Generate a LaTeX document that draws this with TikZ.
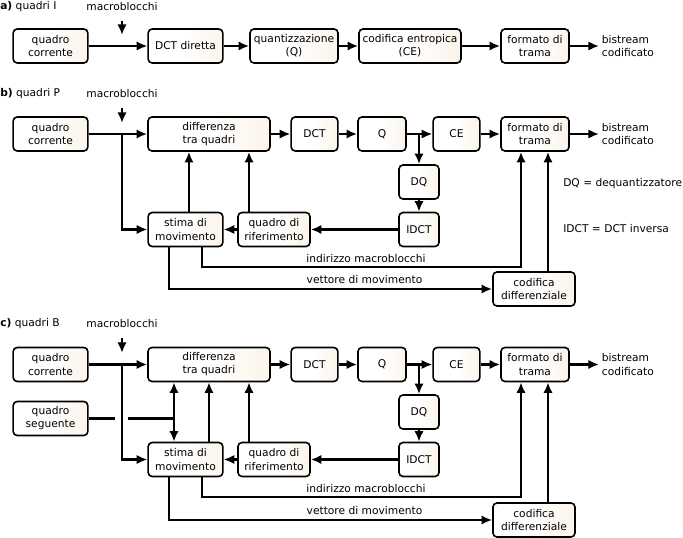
\documentclass[tikz,border=0pt]{standalone}
\usepackage{fontspec}
\setmainfont{DejaVu Sans}
\usetikzlibrary{arrows.meta}
\usetikzlibrary{graphs}
\definecolor{beige}{RGB}{247,232,212}
\pgfdeclarehorizontalshading{boxshade}{100bp}{color(0bp)=(white); color(50bp)=(white); color(100bp)=(beige)}
\tikzset{
  blk/.style= {draw, line width=1.2pt, rounded corners=3pt, shading=boxshade, align=center,
    inner sep=1pt, minimum height=25.5pt, font=\fontsize{8}{9.8}\selectfont},
  lbl/.style= {font=\fontsize{8}{9.8}\selectfont, align=left, inner sep=0pt},
  flow/.style= {line width=1.6pt, ->},
  wire/.style= {line width=1.6pt},
}

\begin{document}
\begin{tikzpicture}[x=0.75pt, y=-0.75pt, >={Latex[length=8pt,width=7pt]}]
  \useasboundingbox (0,0) rectangle (683,538);

  % a) quadri I
  \node [lbl, anchor=west] (titA) at (0,7) {\textbf{a)} quadri I} ;
  \node [lbl] (mbA) at (122,7) {macroblocchi} ;
  \coordinate (tipA) at (122,35) ;
  \node [blk, minimum width=56pt] (qcA) at (50.5,46) {quadro\\corrente} ;
  \node [blk, minimum width=56pt] (dctA) at (185.5,46) {DCT diretta} ;
  \node [blk, minimum width=66pt] (qA) at (294,46) {quantizzazione\\(Q)} ;
  \node [blk, minimum width=76.5pt] (ceA) at (410,46) {codifica entropica\\(CE)} ;
  \node [blk, minimum width=51pt] (fmtA) at (535,46) {formato di\\trama} ;
  \node [lbl, anchor=west, inner sep=2pt] (bsA) at (599,46) {bistream\\codificato} ;

  \draw [flow] ([yshift=-7pt]mbA.south) -- (tipA) ;
  \graph [edges=flow] {
    (qcA) -> (dctA) -> (qA) -> (ceA) -> (fmtA) -> (bsA) ;
  } ;

  % b) quadri P
  \node [lbl, anchor=west] (titB) at (0,94) {\textbf{b)} quadri P} ;
  \node [lbl] (mbB) at (122,94) {macroblocchi} ;
  \coordinate (tipB) at (122,123) ;
  \node [blk, minimum width=56pt] (qcB) at (50.5,134) {quadro\\corrente} ;
  \node [blk, minimum width=91.5pt] (diffB) at (209,134) {differenza\\tra quadri} ;
  \node [blk, minimum width=35pt] (dctB) at (314.5,134) {DCT} ;
  \node [blk, minimum width=36pt] (qB) at (382,134) {Q} ;
  \node [blk, minimum width=35pt] (ceB) at (456.5,134) {CE} ;
  \node [blk, minimum width=51pt] (fmtB) at (535,134) {formato di\\trama} ;
  \node [lbl, anchor=west, inner sep=2pt] (bsB) at (599,134) {bistream\\codificato} ;
  \node [blk, minimum width=30pt] (dqB) at (419,182) {DQ} ;
  \node [blk, minimum width=30pt] (idctB) at (419,229.5) {IDCT} ;
  \node [blk, minimum width=56pt] (stimaB) at (185.5,229.5) {stima di\\movimento} ;
  \node [blk, minimum width=54pt] (rifB) at (274,229.5) {quadro di\\riferimento} ;
  \node [blk, minimum width=61.5pt] (cdiffB) at (534,289) {codifica\\differenziale} ;
  \node [lbl, anchor=west] (dqnB) at (563,184) {DQ = dequantizzatore} ;
  \node [lbl, anchor=west] (idnB) at (563,229) {IDCT = DCT inversa} ;
  \node [lbl] (adrtB) at (366,259) {indirizzo macroblocchi} ;
  \node [lbl] (vettB) at (364.5,280) {vettore di movimento} ;
  \coordinate (jB) at (122,134) ;
  \coordinate (jqB) at (419,134) ;
  \coordinate (adrB) at (521,267) ;

  \draw [flow] ([yshift=-7pt]mbB.south) -- (tipB) ;
  \graph [edges=flow] {
    (qcB) -> (diffB) -> (dctB) -> (qB) -> (ceB) -> (fmtB) -> (bsB) ;
    (dqB) -> (idctB) -> (rifB) -> (stimaB) ;
  } ;
  \draw [flow] (jqB) -- (dqB) ;
  \draw [flow] (jB) |- (stimaB) ;
  \draw [flow] ([xshift=2.6pt]stimaB.north) -- ([xshift=2.6pt]stimaB.north |- diffB.south) ;
  \draw [flow] ([xshift=-18.75pt]rifB.north) -- ([xshift=-18.75pt]rifB.north |- diffB.south) ;
  \draw [flow] ([xshift=12.4pt]stimaB.south) |- (adrB) -- (adrB |- fmtB.south) ;
  \draw [flow] ([xshift=-12.4pt]stimaB.south) |- (cdiffB) ;
  \draw [flow] ([xshift=10.5pt]cdiffB.north) -- ([xshift=10.5pt]cdiffB.north |- fmtB.south) ;

  % c) quadri B
  \node [lbl, anchor=west] (titC) at (0,324) {\textbf{c)} quadri B} ;
  \node [lbl] (mbC) at (122,324) {macroblocchi} ;
  \coordinate (tipC) at (122,353) ;
  \node [blk, minimum width=56pt] (qcC) at (50.5,364.5) {quadro\\corrente} ;
  \node [blk, minimum width=56pt] (qsC) at (50.5,418.5) {quadro\\seguente} ;
  \node [blk, minimum width=91.5pt] (diffC) at (209,364.5) {differenza\\tra quadri} ;
  \node [blk, minimum width=35pt] (dctC) at (314.5,364.5) {DCT} ;
  \node [blk, minimum width=36pt] (qC) at (382,364.5) {Q} ;
  \node [blk, minimum width=35pt] (ceC) at (456.5,364.5) {CE} ;
  \node [blk, minimum width=51pt] (fmtC) at (535,364.5) {formato di\\trama} ;
  \node [lbl, anchor=west, inner sep=2pt] (bsC) at (599,364.5) {bistream\\codificato} ;
  \node [blk, minimum width=30pt] (dqC) at (419,412) {DQ} ;
  \node [blk, minimum width=30pt] (idctC) at (419,459.5) {IDCT} ;
  \node [blk, minimum width=56pt] (stimaC) at (185.5,459.5) {stima di\\movimento} ;
  \node [blk, minimum width=54pt] (rifC) at (274,459.5) {quadro di\\riferimento} ;
  \node [blk, minimum width=61.5pt] (cdiffC) at (534,520) {codifica\\differenziale} ;
  \node [lbl] (adrtC) at (366,489) {indirizzo macroblocchi} ;
  \node [lbl] (vettC) at (364.5,510.5) {vettore di movimento} ;
  \coordinate (jC) at (122,364.5) ;
  \coordinate (jqC) at (419,364.5) ;
  \coordinate (adrC) at (521,497) ;
  \coordinate (gapL) at (115,418.5) ;
  \coordinate (gapR) at (128,418.5) ;
  \coordinate (jsC) at (174,418.5) ;

  \draw [flow] ([yshift=-7pt]mbC.south) -- (tipC) ;
  \graph [edges=flow] {
    (qcC) -> (diffC) -> (dctC) -> (qC) -> (ceC) -> (fmtC) -> (bsC) ;
    (dqC) -> (idctC) -> (rifC) -> (stimaC) ;
  } ;
  \draw [flow] (jqC) -- (dqC) ;
  \draw [flow] (jC) |- (stimaC) ;
  \draw [wire] (qsC) -- (gapL) ;
  \draw [wire] (gapR) -- (jsC) ;
  \draw [flow] (jsC) -- (jsC |- diffC.south) ;
  \draw [flow] (jsC) -- (jsC |- stimaC.north) ;
  \draw [flow] ([xshift=17.6pt]stimaC.north) -- ([xshift=17.6pt]stimaC.north |- diffC.south) ;
  \draw [flow] ([xshift=-18.75pt]rifC.north) -- ([xshift=-18.75pt]rifC.north |- diffC.south) ;
  \draw [flow] ([xshift=12.4pt]stimaC.south) |- (adrC) -- (adrC |- fmtC.south) ;
  \draw [flow] ([xshift=-12.4pt]stimaC.south) |- (cdiffC) ;
  \draw [flow] ([xshift=10.5pt]cdiffC.north) -- ([xshift=10.5pt]cdiffC.north |- fmtC.south) ;
\end{tikzpicture}
\end{document}
